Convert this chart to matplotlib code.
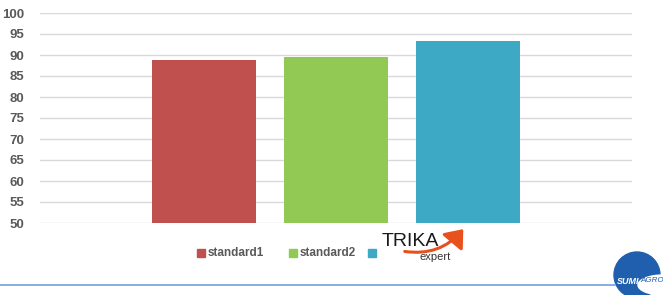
import matplotlib
matplotlib.use("Agg")
import matplotlib.pyplot as plt
from matplotlib.patches import Rectangle, Ellipse, FancyArrowPatch

categories = ["standard1", "standard2", "TRIKA expert"]
values = [88.9, 89.6, 93.4]
colors = ["#C0504D", "#92C955", "#3DA9C5"]
yticks = [50, 55, 60, 65, 70, 75, 80, 85, 90, 95, 100]

W, H = 663, 295
fig = plt.figure(figsize=(W / 100, H / 100), dpi=100)
ax = fig.add_axes([40 / W, (H - 223) / H, (632 - 40) / W, (223 - 13) / H])

x = list(range(len(categories)))
ax.bar(x, values, width=0.79, color=colors, zorder=3)
ax.set_ylim(50, 100)
ax.set_xlim(-1.25, 3.25)
ax.set_yticks(yticks)
ax.set_xticks([])
ax.yaxis.grid(True, color="#D9D9D9", linewidth=1.0, zorder=0)
for s in ax.spines.values():
    s.set_visible(False)
ax.tick_params(axis="y", length=0, pad=11, labelsize=9.5, labelcolor="#595959")
for lab in ax.get_yticklabels():
    lab.set_fontweight("bold")
    lab.set_family("Liberation Sans")

# legend
leg_items = [(197, categories[0]), (289, categories[1])]
for i, (px, name) in enumerate(leg_items):
    fig.patches.append(Rectangle((px / W, (H - 257) / H), 8 / W, 8 / H,
                                 transform=fig.transFigure, color=colors[i]))
    fig.text((px + 11) / W, (H - 253) / H, name, fontsize=8.5, fontweight="bold",
             color="#595959", va="center", ha="left", family="Liberation Sans")
fig.patches.append(Rectangle((368 / W, (H - 257) / H), 8 / W, 8 / H,
                             transform=fig.transFigure, color=colors[2]))
# TRIKA expert logo as text
arr = FancyArrowPatch((402 / W, (H - 251) / H), (465 / W, (H - 227) / H),
                      transform=fig.transFigure, connectionstyle="arc3,rad=0.3",
                      arrowstyle="-|>,head_length=5,head_width=4", color="#E8501E",
                      linewidth=2.2, mutation_scale=2)
fig.patches.append(arr)
fig.text(382 / W, (H - 241) / H, "TRIKA", fontsize=14, color="#1a1a1a",
         va="center", ha="left", family="Liberation Sans")
fig.text(420 / W, (H - 257) / H, "expert", fontsize=8, color="#333333",
         va="center", ha="left", family="Liberation Sans")

# bottom line
fig.add_artist(plt.Line2D([0, 615 / W], [(H - 285) / H, (H - 285) / H],
                          transform=fig.transFigure, color="#6FA0DC", linewidth=1.2))
# SUMIAGRO logo
fig.patches.append(Ellipse((637 / W, (H - 275) / H), 46 / W, 46 / H,
                           transform=fig.transFigure, color="#1F5FAD"))
fig.patches.append(Ellipse((663 / W, (H - 285) / H), 50 / W, 20 / H,
                           transform=fig.transFigure, color="white"))
fig.text(639 / W, (H - 281) / H, "SUMI", fontsize=6.5, fontweight="bold", color="white",
         va="center", ha="right", style="italic", family="Liberation Sans")
fig.text(640 / W, (H - 281) / H, "AGRO", fontsize=5.8, color="#1F5FAD",
         va="center", ha="left", style="italic", family="Liberation Sans")

fig.savefig("out.png", dpi=100)
